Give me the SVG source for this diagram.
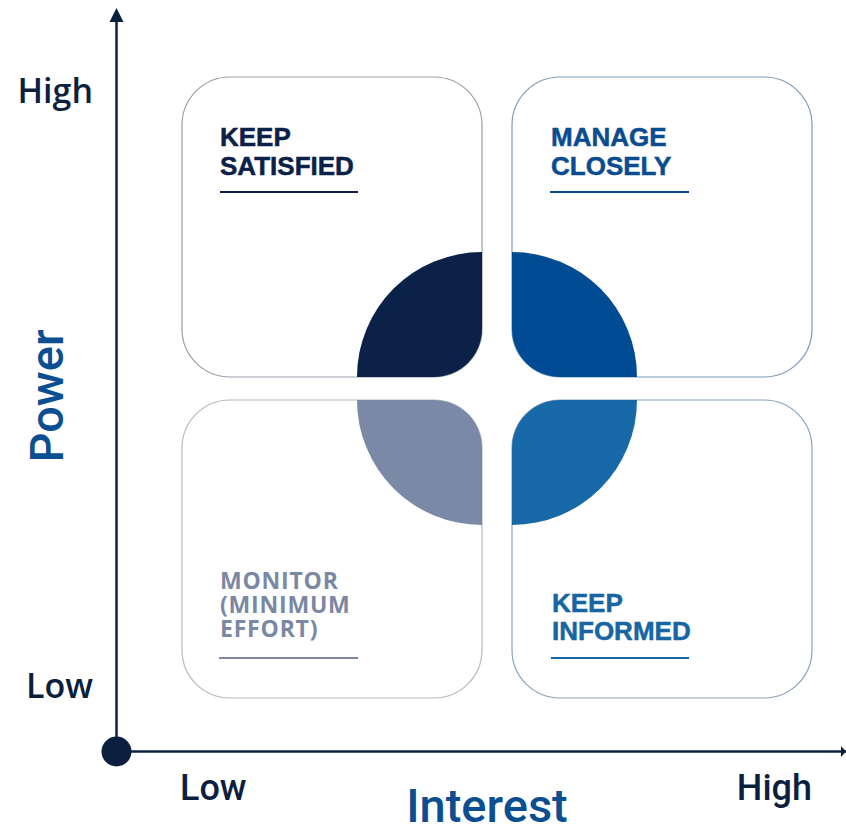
<svg xmlns="http://www.w3.org/2000/svg" width="846" height="833" viewBox="0 0 846 833">
<style>
.box{fill:#ffffff;stroke-width:1.2}
.lbl{font-family:"Liberation Sans",Arial,sans-serif;font-weight:bold;font-size:26px;stroke-width:0.5}
.lbl2{font-family:"Open Sans","Liberation Sans",sans-serif;font-weight:bold;font-size:23px;letter-spacing:0.8px}
.ul{stroke-width:2}
.ax{fill:#0d1f3f;font-family:"Open Sans","Liberation Sans",sans-serif;font-weight:600;font-size:34px}
.axb{fill:#0d1f3f;font-family:Roboto,"Liberation Sans",sans-serif;font-weight:500;font-size:36px}
.title{fill:#0b4f92;font-family:Roboto,"Liberation Sans",sans-serif;font-weight:500;font-size:47px}
.axis{stroke:#0d1f3f;stroke-width:2.5;fill:none}
</style>
<rect width="846" height="833" fill="#ffffff"/>

<g id="keep-satisfied">
  <rect class="box" x="182" y="77" width="300" height="300" rx="48" stroke="#9aa1ab"/>
  <path d="M482,252 A125,125 0 0 0 357,377 L434,377 A48,48 0 0 0 482,329 Z" fill="#0b2148"/>
  <text class="lbl" fill="#0b2148" stroke="#0b2148"><tspan x="220" y="146">KEEP</tspan><tspan x="220" y="175">SATISFIED</tspan></text>
  <line class="ul" x1="220" y1="192" x2="358" y2="192" stroke="#0b2148"/>
</g>

<g id="manage-closely">
  <rect class="box" x="512" y="77" width="300" height="300" rx="48" stroke="#7f9bb8"/>
  <path d="M512,252 A125,125 0 0 1 637,377 L560,377 A48,48 0 0 1 512,329 Z" fill="#004b94"/>
  <text class="lbl" fill="#0b4c91" stroke="#0b4c91"><tspan x="551" y="146">MANAGE</tspan><tspan x="551" y="175">CLOSELY</tspan></text>
  <line class="ul" x1="550" y1="192" x2="689" y2="192" stroke="#0b4c91"/>
</g>

<g id="monitor">
  <rect class="box" x="182" y="400" width="300" height="298" rx="48" stroke="#b4bac3"/>
  <path d="M357,400 A125,125 0 0 0 482,525 L482,448 A48,48 0 0 0 434,400 Z" fill="#7a89a5"/>
  <text class="lbl2" fill="#7b88a3"><tspan x="220" y="589">MONITOR</tspan><tspan x="220" y="613">(MINIMUM</tspan><tspan x="220" y="637">EFFORT)</tspan></text>
  <line class="ul" x1="219" y1="658" x2="358" y2="658" stroke="#7b88a3"/>
</g>

<g id="keep-informed">
  <rect class="box" x="512" y="400" width="300" height="298" rx="48" stroke="#8aa2bb"/>
  <path d="M637,400 A125,125 0 0 1 512,525 L512,448 A48,48 0 0 1 560,400 Z" fill="#176aa7"/>
  <text class="lbl" fill="#1766a3" stroke="#1766a3"><tspan x="552" y="612">KEEP</tspan><tspan x="552" y="640">INFORMED</tspan></text>
  <line class="ul" x1="551" y1="658" x2="689" y2="658" stroke="#1766a3"/>
</g>

<g id="axes">
  <line class="axis" x1="116.5" y1="20" x2="116.5" y2="751"/>
  <polygon points="116.5,8 109.5,22 123.5,22" fill="#0d1f3f"/>
  <line class="axis" x1="116.5" y1="751.5" x2="846" y2="751.5"/>
  <polygon points="846,751.5 841,746 841,757" fill="#0d1f3f"/>
  <circle cx="116.5" cy="751.5" r="15" fill="#0d1f3f"/>
</g>

<g id="axis-labels">
  <text class="ax" x="93" y="103" text-anchor="end">High</text>
  <text class="ax" x="93" y="698" text-anchor="end">Low</text>
  <text class="axb" x="180" y="800">Low</text>
  <text class="axb" x="812" y="800" text-anchor="end">High</text>
  <text class="title" x="487" y="822" text-anchor="middle">Interest</text>
  <text class="title" transform="translate(63,396) rotate(-90)" text-anchor="middle" font-size="46">Power</text>
</g>
</svg>
